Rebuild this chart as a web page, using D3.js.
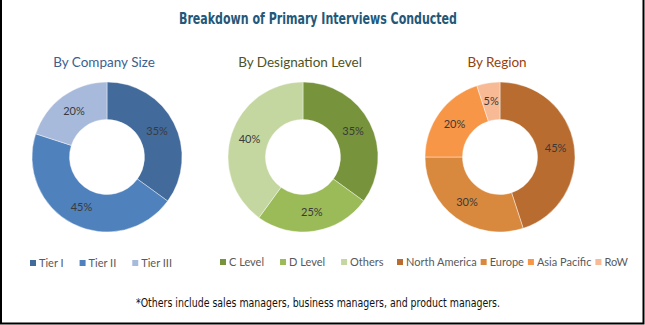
<!DOCTYPE html>
<html>
<head>
<meta charset="utf-8">
<script src="https://cdn.jsdelivr.net/npm/d3@7"></script>
<style>
  html, body { margin: 0; padding: 0; background: #fff; }
  svg { display: block; }
</style>
</head>
<body>
<svg id="chart" width="645" height="325"></svg>
<script>
// ---- data ----
const companyLabels = ["Tier I", "Tier II", "Tier III"];
const companyValues = [35, 45, 20];
const companyColors = ["#426a9b", "#4f81bd", "#a8badb"];

const designationLabels = ["C Level", "D Level", "Others"];
const designationValues = [35, 25, 40];
const designationColors = ["#77933c", "#9bbb59", "#c4d7a0"];

const regionLabels = ["North America", "Europe", "Asia Pacific", "RoW"];
const regionValues = [45, 30, 20, 5];
const regionColors = ["#b86c30", "#d9893e", "#f79646", "#f8b995"];

const titleText = "Breakdown of Primary Interviews Conducted";
const footnoteText = "*Others include sales managers, business managers, and product managers.";

// ---- layout ----
const W = 645, H = 325;
const bodyFont = "Lato, 'Open Sans', sans-serif";
const narrowFont = "'DejaVu Sans Condensed', 'Liberation Sans Narrow', 'Arial Narrow', sans-serif";
const svg = d3.select("#chart");

// frame (left, right, bottom edges)
svg.append("path")
  .attr("d", `M1,0 V${H - 1.5} H${W - 1.5} V0`)
  .attr("fill", "none").attr("stroke", "#000").attr("stroke-width", 2);

svg.append("text")
  .attr("x", 179).attr("y", 24)
  .attr("font-family", narrowFont)
  .attr("font-weight", "bold")
  .attr("font-size", 16.5)
  .attr("textLength", 278)
  .attr("lengthAdjust", "spacingAndGlyphs")
  .attr("fill", "#235878")
  .text(titleText);

svg.append("text")
  .attr("x", 136).attr("y", 307)
  .attr("font-family", narrowFont)
  .attr("font-size", 11.5)
  .attr("textLength", 364)
  .attr("lengthAdjust", "spacingAndGlyphs")
  .attr("fill", "#111")
  .text(footnoteText);

const panels = [
  { title: "By Company Size", titleColor: "#3b6190", cx: 107, labels: companyLabels, values: companyValues, colors: companyColors, legendX: 30, legendY: 263 },
  { title: "By Designation Level", titleColor: "#4c5427", cx: 303, labels: designationLabels, values: designationValues, colors: designationColors, legendX: 220, legendY: 262 },
  { title: "By Region", titleColor: "#94420f", cx: 500, labels: regionLabels, values: regionValues, colors: regionColors, legendX: 397, legendY: 262 }
];

const cy = 157, outerR = 75, innerR = 37.5;
const pie = d3.pie().sort(null).value(d => d.value);
const arc = d3.arc().innerRadius(innerR).outerRadius(outerR);
const labelArc = d3.arc().innerRadius((innerR + outerR) / 2).outerRadius((innerR + outerR) / 2);

panels.forEach(p => {
  svg.append("text")
    .attr("x", p.cx - 3).attr("y", 67)
    .attr("text-anchor", "middle")
    .attr("font-family", bodyFont)
    .attr("font-size", 13.5)
    .attr("fill", p.titleColor)
    .text(p.title);

  const rows = p.labels.map((l, i) => ({ label: l, value: p.values[i], color: p.colors[i] }));
  const g = svg.append("g").attr("transform", `translate(${p.cx},${cy})`);
  const arcs = pie(rows);

  g.selectAll("path").data(arcs).join("path")
    .attr("d", arc)
    .attr("fill", d => d.data.color)
    .attr("stroke", "#fff").attr("stroke-opacity", 0.6).attr("stroke-width", 0.7);

  g.selectAll("text").data(arcs).join("text")
    .attr("transform", d => `translate(${labelArc.centroid(d)})`)
    .attr("text-anchor", "middle")
    .attr("dy", "0.35em")
    .attr("font-family", bodyFont)
    .attr("font-size", 11)
    .attr("fill", "#3a3a3a")
    .text(d => d.data.value + "%");

  // legend, items laid out left to right by measured width
  const lg = svg.append("g").attr("transform", `translate(${p.legendX},${p.legendY})`);
  const gap = p.labels.length > 3 ? 4 : 16;
  let x = 0;
  rows.forEach(r => {
    const item = lg.append("g").attr("transform", `translate(${x},0)`);
    item.append("rect").attr("x", 0).attr("y", -3).attr("width", 6).attr("height", 6).attr("fill", r.color);
    const t = item.append("text")
      .attr("x", 9).attr("y", 0).attr("dy", "0.35em")
      .attr("font-family", bodyFont)
      .attr("font-size", 11)
      .attr("fill", "#595959")
      .text(r.label);
    x += 9 + t.node().getComputedTextLength() + gap;
  });
});
</script>
</body>
</html>
